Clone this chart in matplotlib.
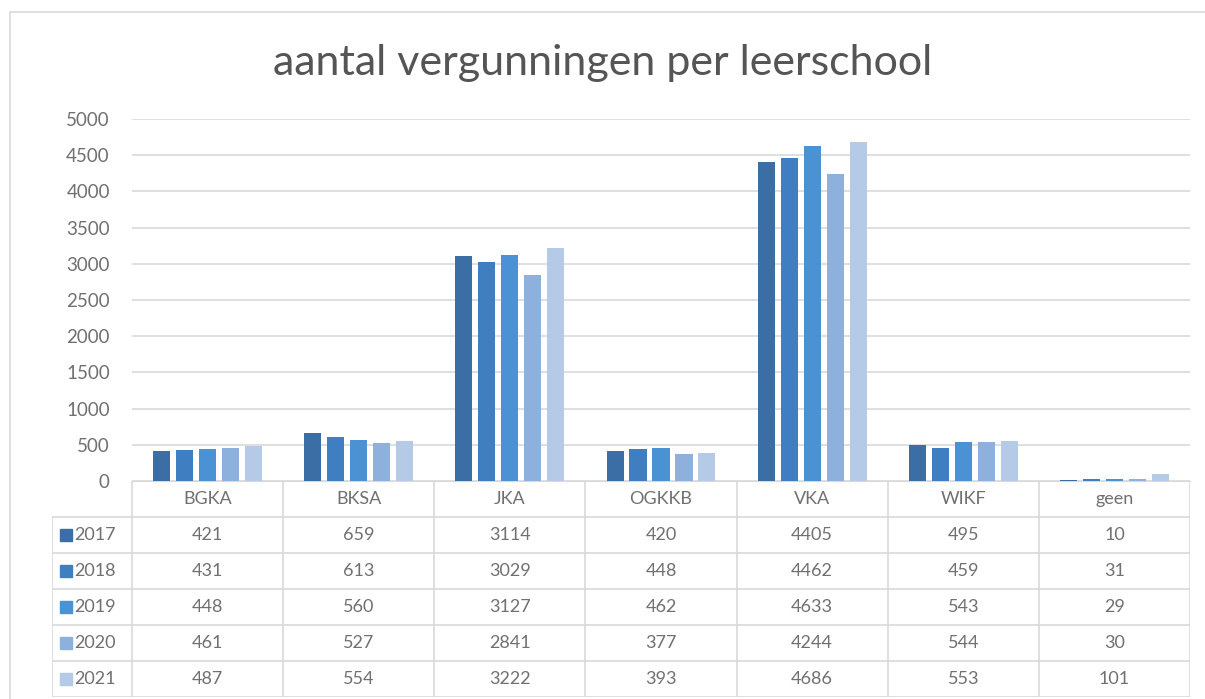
import matplotlib
matplotlib.use("Agg")
import matplotlib.pyplot as plt
import numpy as np

plt.rcParams['font.family'] = ['Lato', 'DejaVu Sans']

categories = ["BGKA", "BKSA", "JKA", "OGKKB", "VKA", "WIKF", "geen"]
years = ["2017", "2018", "2019", "2020", "2021"]
v2017 = [421, 659, 3114, 420, 4405, 495, 10]
v2018 = [431, 613, 3029, 448, 4462, 459, 31]
v2019 = [448, 560, 3127, 462, 4633, 543, 29]
v2020 = [461, 527, 2841, 377, 4244, 544, 30]
v2021 = [487, 554, 3222, 393, 4686, 553, 101]
series = [v2017, v2018, v2019, v2020, v2021]
colors = ["#3A6EA5", "#3F7FC1", "#4A92D3", "#8DB1DC", "#B5CAE6"]

W, H = 1205, 699
def fx(px):
    return px / W
def fy(py):
    return 1 - py / H

txt = "#707070"
line = "#D9D9D9"

fig = plt.figure(figsize=(W / 100, H / 100), dpi=100)

# outer border
fig.patches.append(plt.Rectangle((fx(10), fy(700)), fx(1210) - fx(10), fy(12) - fy(700),
                                 transform=fig.transFigure, fill=False,
                                 edgecolor=line, linewidth=1.2))

fig.text(0.5, fy(63), "aantal vergunningen per leerschool", ha="center", va="center",
         fontsize=31, color="#555555")

# bars
ax = fig.add_axes([fx(132), fy(481), fx(1190) - fx(132), fy(119) - fy(481)])
x = np.arange(len(categories))
for i, vals in enumerate(series):
    ax.bar(x + (i - 2) * 0.152, vals, width=0.113, color=colors[i], zorder=3)
ax.set_xlim(-0.5, len(categories) - 0.5)
ax.set_ylim(0, 5000)
ax.set_yticks(np.arange(0, 5001, 500))
ax.set_xticks([])
ax.grid(axis="y", color=line, linewidth=1.2, zorder=0)
for s in ["top", "right", "left"]:
    ax.spines[s].set_visible(False)
ax.spines["bottom"].set_color(line)
ax.tick_params(axis="y", length=0, pad=16, labelsize=13.5, labelcolor=txt)

# data table
lw = (132 - 52) / 151.1
tab = fig.add_axes([fx(52), fy(697), fx(1190) - fx(52), fy(481) - fy(697)])
x0 = -0.5 - lw
tab.set_xlim(x0, len(categories) - 0.5)
tab.set_ylim(6, 0)
tab.axis("off")
for r in range(1, 7):
    tab.plot([x0, len(categories) - 0.5], [r, r], color=line, lw=1.2)
tab.plot([x0, x0], [1, 6], color=line, lw=1.2)
for k in range(len(categories) + 1):
    tab.plot([k - 0.5, k - 0.5], [0, 6], color=line, lw=1.2)
for k, c in enumerate(categories):
    tab.text(k, 0.5, c, ha="center", va="center", fontsize=13, color=txt)
for i, vals in enumerate(series):
    tab.plot(x0 + 0.09, i + 1.5, marker="s", markersize=8, color=colors[i], clip_on=False)
    tab.text(x0 + 0.15, i + 1.5, years[i], ha="left", va="center", fontsize=13, color=txt)
    for k, v in enumerate(vals):
        tab.text(k, i + 1.5, str(v), ha="center", va="center", fontsize=13, color=txt)

fig.savefig("out.png", dpi=100)
